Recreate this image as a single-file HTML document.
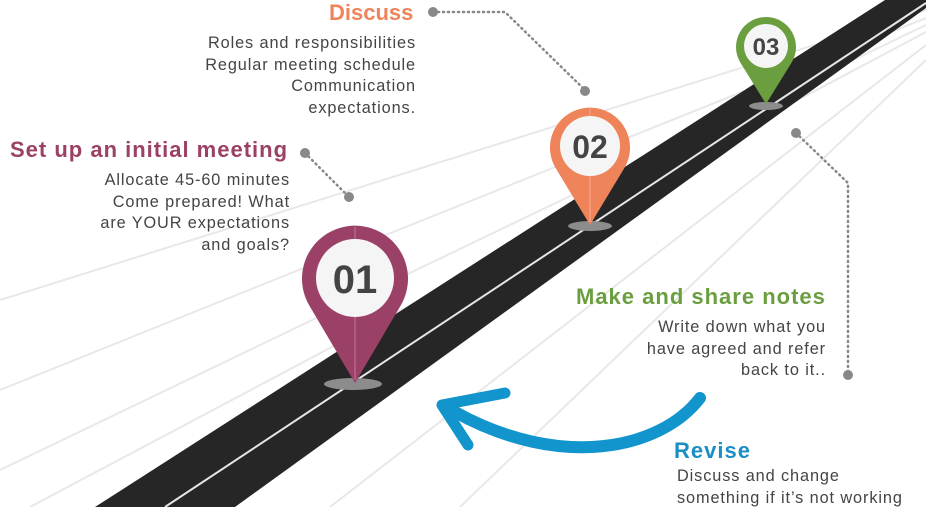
<!DOCTYPE html>
<html><head><meta charset="utf-8"><style>
html,body{margin:0;padding:0;background:#fff;}
body{width:926px;height:507px;position:relative;overflow:hidden;font-family:"Liberation Sans",sans-serif;}
.t{position:absolute;font-size:16.3px;color:#444;line-height:21.5px;white-space:nowrap;letter-spacing:0.9px;}
.h{position:absolute;font-weight:bold;font-size:22px;white-space:nowrap;letter-spacing:1px;}
</style></head><body>
<svg width="926" height="507" style="position:absolute;left:0;top:0">
<g stroke="#e8e8e8" stroke-width="2" fill="none">
<line x1="926" y1="10" x2="0" y2="300"/>
<line x1="926" y1="18" x2="0" y2="390"/>
<line x1="926" y1="25" x2="0" y2="470"/>
<line x1="926" y1="32" x2="30" y2="507"/>
<line x1="926" y1="45" x2="330" y2="507"/>
<line x1="926" y1="60" x2="460" y2="507"/>
</g>
<polygon points="95,507 885,0 926,0 926,8 235,507" fill="#262626"/>
<line x1="165" y1="507" x2="926" y2="3" stroke="#e6e6e6" stroke-width="2"/>
<g fill="#8c8c8c">
<ellipse cx="353" cy="384" rx="29" ry="6"/>
<ellipse cx="590" cy="226" rx="22" ry="5"/>
<ellipse cx="766" cy="106" rx="17" ry="4"/>
</g>
<path d="M355,383 L309,305 A53,53 0 1 1 401,305 Z" fill="#9b4066"/>
<line x1="355" y1="227" x2="355" y2="380" stroke="#c07a98" stroke-width="1"/>
<circle cx="355" cy="278" r="39" fill="#f5f5f5"/>
<path d="M590,225 L555,167 A40,40 0 1 1 625,167 Z" fill="#ef845a"/>
<line x1="590" y1="107" x2="590" y2="222" stroke="#f5b090" stroke-width="1"/>
<circle cx="590" cy="146" r="30" fill="#f5f5f5"/>
<path d="M766,104 L740,62 A30,30 0 1 1 792,62 Z" fill="#6a9e3f"/>
<circle cx="766" cy="46" r="22" fill="#f5f5f5"/>
<text x="355" y="293" font-family="Liberation Sans" font-weight="bold" font-size="40" fill="#444" text-anchor="middle">01</text>
<text x="590" y="158" font-family="Liberation Sans" font-weight="bold" font-size="32" fill="#444" text-anchor="middle">02</text>
<text x="766" y="55" font-family="Liberation Sans" font-weight="bold" font-size="24" fill="#444" text-anchor="middle">03</text>
<g stroke="#888" stroke-width="2.5" stroke-dasharray="1 4" stroke-linecap="round" fill="none">
<polyline points="433,12 505,12 585,90"/>
<line x1="305" y1="153" x2="349" y2="197"/>
<polyline points="796,133 848,183 848,375"/>
</g>
<g fill="#888">
<circle cx="433" cy="12" r="5"/><circle cx="585" cy="91" r="5"/>
<circle cx="305" cy="153" r="5"/><circle cx="349" cy="197" r="5"/>
<circle cx="796" cy="133" r="5"/><circle cx="848" cy="375" r="5"/>
</g>
<path d="M700,398 C660,450 560,470 455,412" stroke="#1195cc" stroke-width="12" fill="none" stroke-linecap="round"/>
<path d="M442,405 L505,393 M442,405 L468,445" stroke="#1195cc" stroke-width="11" fill="none" stroke-linecap="round"/>
</svg>
<div class="h" style="left:329px;top:0px;color:#ef845a;letter-spacing:0">Discuss</div>
<div class="t" style="right:510px;top:33px;text-align:right">Roles and responsibilities<br>Regular meeting schedule<br>Communication<br>expectations.</div>
<div class="h" style="left:10px;top:137px;color:#9b4066">Set up an initial meeting</div>
<div class="t" style="right:636px;top:170px;text-align:right">Allocate 45-60 minutes<br>Come prepared! What<br>are YOUR expectations<br>and goals?</div>
<div class="h" style="left:576px;top:284px;color:#6a9e3f">Make and share notes</div>
<div class="t" style="right:100px;top:317px;text-align:right">Write down what you<br>have agreed and refer<br>back to it..</div>
<div class="h" style="left:674px;top:438px;color:#1a8fc7">Revise</div>
<div class="t" style="left:677px;top:466px">Discuss and change<br>something if it’s not working</div>
</body></html>
